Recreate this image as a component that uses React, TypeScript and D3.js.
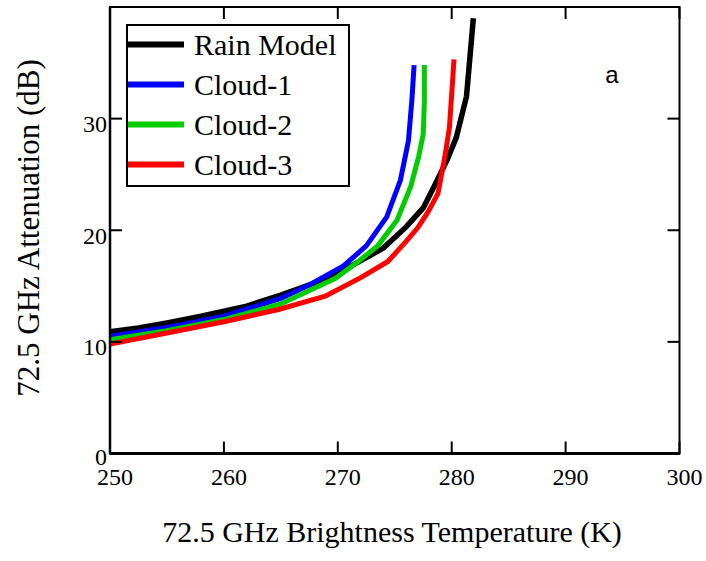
import React from "react";
import * as d3 from "d3";

const seriesNames = ["Rain Model", "Cloud-1", "Cloud-2", "Cloud-3"];
const seriesColors = ["#000000", "#0000ff", "#00cc00", "#ff0000"];

const rainT = [250, 252.5, 255, 258, 262, 265, 268, 271, 274, 276, 277.5, 278.5, 279.6, 280.4, 281.3, 281.9];
const rainA = [10.9, 11.25, 11.7, 12.3, 13.2, 14.2, 15.3, 16.7, 18.4, 20.3, 22, 24, 26.3, 28.3, 32, 39];

const cloud1T = [250, 255, 260, 265, 267.5, 270.5, 272.5, 274.3, 275.5, 276.2, 276.5, 276.7];
const cloud1A = [10.5, 11.3, 12.3, 13.9, 15.1, 16.8, 18.6, 21.2, 24.5, 28, 31.6, 34.8];

const cloud2T = [250, 255, 260, 265, 269.8, 271.8, 273.5, 275.2, 276.4, 277.1, 277.5, 277.6, 277.6];
const cloud2A = [10.2, 11.0, 12.0, 13.4, 15.7, 17.2, 18.6, 20.9, 23.9, 26.6, 28.6, 31.5, 34.8];

const cloud3T = [250, 255, 260, 264.8, 268.9, 272.1, 274.4, 276, 277, 277.9, 278.8, 279.4, 279.8, 280.1, 280.2];
const cloud3A = [9.8, 10.8, 11.8, 12.9, 14.1, 15.8, 17.2, 19, 20.2, 21.6, 23.3, 26.6, 29.2, 33.7, 35.3];

const xTicks = [250, 260, 270, 280, 290, 300];
const yTicks = [0, 10, 20, 30];

const seriesT = [rainT, cloud1T, cloud2T, cloud3T];
const seriesA = [rainA, cloud1A, cloud2A, cloud3A];

export default function App() {
  const W = 706, H = 561;
  const left = 110, right = 679.5, top = 7, bottom = 453.5;
  const x = d3.scaleLinear().domain([250, 300]).range([left, right]);
  const y = d3.scaleLinear().domain([0, 40]).range([bottom, top]);
  const line = d3.line<[number, number]>().x(d => x(d[0])).y(d => y(d[1]));
  const serif = "'Liberation Serif', 'Times New Roman', serif";
  const tick = 12;

  return (
    <svg width={W} height={H} style={{ position: "absolute", left: 0, top: 0 }}>
      <rect x={0} y={0} width={W} height={H} fill="#fff" />
      {seriesT.map((ts, i) => (
        <path key={i} d={line(ts.map((t, j) => [t, seriesA[i][j]]) as [number, number][]) || ""}
          fill="none" stroke={seriesColors[i]} strokeWidth={i === 0 ? 5.5 : 5} strokeLinejoin="miter" strokeLinecap="butt" />
      ))}
      {/* frame */}
      <rect x={left} y={top} width={right - left} height={bottom - top} fill="none" stroke="#000" strokeWidth={2} />
      <line x1={left} x2={right} y1={bottom} y2={bottom} stroke="#000" strokeWidth={3} />
      <line x1={left} x2={left} y1={top} y2={bottom} stroke="#000" strokeWidth={2.5} />
      {xTicks.map(t => (
        <g key={"x" + t}>
          <line x1={x(t)} x2={x(t)} y1={bottom} y2={bottom - tick} stroke="#000" strokeWidth={2} />
          <line x1={x(t)} x2={x(t)} y1={top} y2={top + tick} stroke="#000" strokeWidth={2} />
          <text x={x(t) + 5} y={485} textAnchor="middle" fontFamily={serif} fontSize={24} fill="#000">{t}</text>
        </g>
      ))}
      {yTicks.map(t => (
        <g key={"y" + t}>
          <line x1={left} x2={left + tick} y1={y(t)} y2={y(t)} stroke="#000" strokeWidth={2} />
          <line x1={right} x2={right - tick} y1={y(t)} y2={y(t)} stroke="#000" strokeWidth={2} />
          <text x={107} y={y(t) + (t === 0 ? 11 : 13.5)} textAnchor="end" fontFamily={serif} fontSize={24} fill="#000">{t}</text>
        </g>
      ))}
      {/* legend */}
      <rect x={127} y={25} width={222} height={161} fill="#fff" stroke="#000" strokeWidth={2} />
      {seriesNames.map((n, i) => (
        <g key={n}>
          <line x1={128} x2={184} y1={44.5 + i * 40} y2={44.5 + i * 40} stroke={seriesColors[i]} strokeWidth={6} />
          <text x={194} y={55 + i * 40} fontFamily={serif} fontSize={30} fill="#000">{n}</text>
        </g>
      ))}
      <text x={612} y={83} textAnchor="middle" fontFamily="'Liberation Sans', Arial, sans-serif" fontSize={24} fill="#000">a</text>
      <text x={392} y={542} textAnchor="middle" fontFamily={serif} fontSize={30} fill="#000">72.5 GHz Brightness Temperature (K)</text>
      <text transform="translate(39,228) rotate(-90)" textAnchor="middle" fontFamily={serif} fontSize={31} fill="#000">72.5 GHz Attenuation (dB)</text>
    </svg>
  );
}
